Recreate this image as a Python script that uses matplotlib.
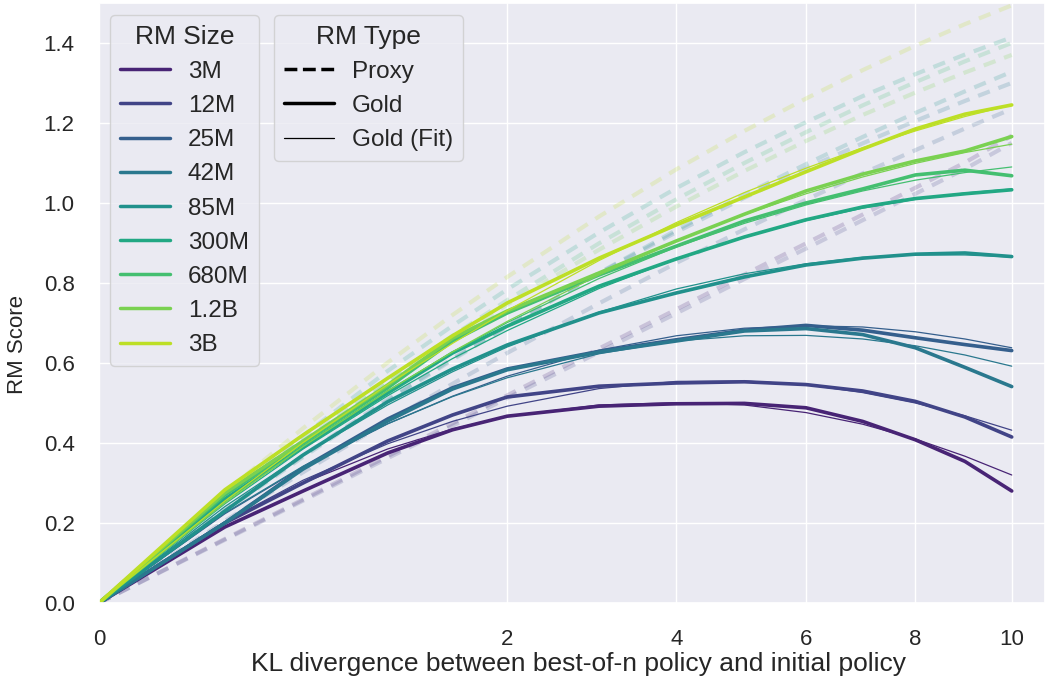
import numpy as np
import matplotlib
matplotlib.use('Agg')
import matplotlib.pyplot as plt
from matplotlib.lines import Line2D
import seaborn as sns

sns.set_theme(style='darkgrid')
plt.rcParams['font.family'] = ['Liberation Sans', 'DejaVu Sans']

kl = [0, 0.19, 0.5, 1, 1.5, 2, 3, 4, 5, 6, 7, 8, 9, 10]

sizes = ['3M', '12M', '25M', '42M', '85M', '300M', '680M', '1.2B', '3B']

# gold RM score (thick solid)
gold_3M = [0, 0.19, 0.28, 0.375, 0.433, 0.467, 0.492, 0.498, 0.499, 0.488, 0.454, 0.408, 0.354, 0.28]
gold_12M = [0, 0.20, 0.30, 0.405, 0.47, 0.515, 0.542, 0.55, 0.553, 0.546, 0.53, 0.504, 0.465, 0.415]
gold_25M = [0, 0.20, 0.338, 0.46, 0.538, 0.585, 0.629, 0.658, 0.682, 0.694, 0.682, 0.663, 0.646, 0.631]
gold_42M = [0, 0.20, 0.335, 0.455, 0.535, 0.583, 0.627, 0.655, 0.68, 0.686, 0.671, 0.638, 0.589, 0.541]
gold_85M = [0, 0.23, 0.37, 0.503, 0.585, 0.645, 0.725, 0.775, 0.815, 0.845, 0.862, 0.872, 0.875, 0.866]
gold_300M = [0, 0.26, 0.39, 0.525, 0.625, 0.692, 0.792, 0.86, 0.915, 0.958, 0.99, 1.011, 1.023, 1.033]
gold_680M = [0, 0.27, 0.40, 0.538, 0.655, 0.725, 0.82, 0.892, 0.955, 1.0, 1.035, 1.07, 1.082, 1.068]
gold_1_2B = [0, 0.275, 0.405, 0.545, 0.662, 0.73, 0.825, 0.905, 0.972, 1.030, 1.072, 1.105, 1.13, 1.166]
gold_3B = [0, 0.283, 0.42, 0.562, 0.668, 0.75, 0.862, 0.945, 1.015, 1.078, 1.135, 1.185, 1.222, 1.245]

# fitted gold curves (thin solid)
fit_3M = [0, 0.20, 0.30, 0.385, 0.435, 0.467, 0.495, 0.501, 0.495, 0.476, 0.447, 0.41, 0.367, 0.32]
fit_12M = [0, 0.203, 0.307, 0.398, 0.454, 0.492, 0.536, 0.554, 0.555, 0.546, 0.526, 0.50, 0.468, 0.432]
fit_25M = [0, 0.223, 0.340, 0.448, 0.517, 0.567, 0.632, 0.668, 0.687, 0.693, 0.690, 0.678, 0.660, 0.638]
fit_42M = [0, 0.225, 0.342, 0.448, 0.516, 0.563, 0.623, 0.655, 0.668, 0.669, 0.660, 0.643, 0.620, 0.592]
fit_85M = [0, 0.241, 0.371, 0.495, 0.578, 0.640, 0.727, 0.785, 0.823, 0.848, 0.864, 0.870, 0.870, 0.865]
fit_300M = [0, 0.248, 0.385, 0.518, 0.611, 0.681, 0.786, 0.860, 0.915, 0.956, 0.987, 1.009, 1.025, 1.035]
fit_680M = [0, 0.253, 0.393, 0.531, 0.627, 0.701, 0.811, 0.890, 0.949, 0.995, 1.030, 1.057, 1.076, 1.090]
fit_1_2B = [0, 0.250, 0.391, 0.530, 0.628, 0.704, 0.820, 0.905, 0.971, 1.023, 1.065, 1.099, 1.126, 1.147]
fit_3B = [0, 0.255, 0.401, 0.546, 0.649, 0.731, 0.856, 0.951, 1.026, 1.087, 1.138, 1.18, 1.216, 1.245]

# proxy RM score (dashed, faint)
proxy_3M = [0, 0.16, 0.259, 0.367, 0.449, 0.519, 0.636, 0.734, 0.821, 0.899, 0.971, 1.038, 1.101, 1.168]
proxy_12M = [0, 0.158, 0.256, 0.362, 0.443, 0.512, 0.627, 0.724, 0.81, 0.886, 0.957, 1.023, 1.085, 1.15]
proxy_25M = [0, 0.205, 0.327, 0.454, 0.548, 0.625, 0.749, 0.850, 0.934, 1.008, 1.074, 1.132, 1.186, 1.235]
proxy_42M = [0, 0.233, 0.369, 0.509, 0.611, 0.693, 0.824, 0.927, 1.013, 1.086, 1.149, 1.205, 1.255, 1.30]
proxy_85M = [0, 0.230, 0.365, 0.505, 0.608, 0.691, 0.825, 0.932, 1.021, 1.097, 1.165, 1.225, 1.279, 1.328]
proxy_300M = [0, 0.268, 0.418, 0.580, 0.693, 0.784, 0.926, 1.037, 1.127, 1.202, 1.267, 1.322, 1.371, 1.414]
proxy_680M = [0, 0.256, 0.405, 0.558, 0.668, 0.757, 0.899, 1.009, 1.100, 1.177, 1.244, 1.302, 1.354, 1.40]
proxy_1_2B = [0, 0.253, 0.400, 0.549, 0.658, 0.746, 0.883, 0.991, 1.080, 1.155, 1.220, 1.276, 1.326, 1.370]
proxy_3B = [0, 0.277, 0.437, 0.601, 0.720, 0.815, 0.966, 1.084, 1.180, 1.261, 1.332, 1.393, 1.447, 1.494]

gold = [gold_3M, gold_12M, gold_25M, gold_42M, gold_85M, gold_300M, gold_680M, gold_1_2B, gold_3B]
fit = [fit_3M, fit_12M, fit_25M, fit_42M, fit_85M, fit_300M, fit_680M, fit_1_2B, fit_3B]
proxy = [proxy_3M, proxy_12M, proxy_25M, proxy_42M, proxy_85M, proxy_300M, proxy_680M, proxy_1_2B, proxy_3B]

colores = sns.color_palette('viridis', len(sizes))

fig = plt.figure(figsize=(10.47, 6.85), dpi=100)
ax = fig.add_axes([0.0946, 0.1197, 0.9034, 0.876])
ax.set_xscale('function', functions=(lambda x: np.sqrt(np.clip(x, 0, None)), np.square))

for i in range(len(sizes)):
    ax.plot(kl, proxy[i], color=colores[i], lw=3, ls=(0, (3, 2.2)), alpha=0.2)
for i in range(len(sizes)):
    ax.plot(kl, gold[i], color=colores[i], lw=2.6, solid_capstyle='round')
    ax.plot(kl, fit[i], color=colores[i], lw=0.9)

ax.set_xlim(0, 10.74)
ax.set_ylim(0, 1.5)
ax.set_xticks([0, 2, 4, 6, 8, 10])
ax.set_yticks(np.arange(0, 1.41, 0.2))
ax.set_yticklabels(['%.1f' % v for v in np.arange(0, 1.41, 0.2)])
ax.tick_params(axis='x', labelsize=16, pad=13)
ax.tick_params(axis='y', labelsize=16, pad=11.5)
ax.set_xlabel('KL divergence between best-of-n policy and initial policy', fontsize=19)
ax.set_ylabel('RM Score', fontsize=16)
ax.xaxis.set_label_coords(0.507, -0.082)
ax.yaxis.set_label_coords(-0.075, 0.43)

# legend de tamaños
h_size = [Line2D([], [], color=colores[i], lw=2.5) for i in range(len(sizes))]
leg1 = ax.legend(h_size, sizes, title='RM Size', loc='upper left', fontsize=17.5,
                 title_fontsize=19, handlelength=2.05, handletextpad=0.75,
                 borderaxespad=0, bbox_to_anchor=(0.0116, 0.98))
ax.add_artist(leg1)

# legend de tipo
h_tipo = [Line2D([], [], color='black', lw=2.5, ls='--'),
          Line2D([], [], color='black', lw=2.5),
          Line2D([], [], color='black', lw=0.9)]
ax.legend(h_tipo, ['Proxy', 'Gold', 'Gold (Fit)'], title='RM Type', loc='upper left', fontsize=17.5,
          title_fontsize=19, handlelength=2.05, handletextpad=0.75,
          borderaxespad=0, bbox_to_anchor=(0.185, 0.98))

fig.savefig('out.png', dpi=100)
